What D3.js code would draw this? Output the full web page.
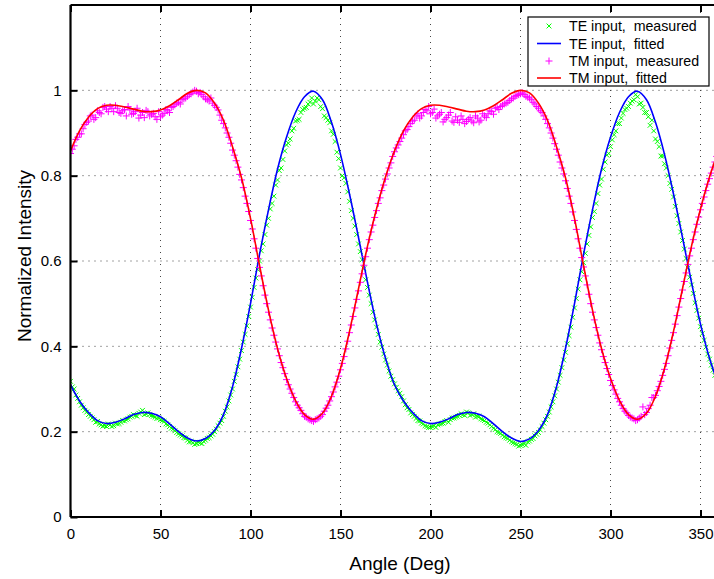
<!DOCTYPE html>
<html><head><meta charset="utf-8">
<script src="https://cdn.jsdelivr.net/npm/d3@7"></script>
<style>
html,body{margin:0;padding:0;background:#fff;}
svg{display:block;font-family:"Liberation Sans",Arial,Helvetica,sans-serif;}
</style></head>
<body>
<svg id="chart" width="714" height="579"></svg>
<script>
// ---------- data ----------
const xTicks = [0, 50, 100, 150, 200, 250, 300, 350];
const yTicks = [0, 0.2, 0.4, 0.6, 0.8, 1];
const yTickLabels = ["0", "0.2", "0.4", "0.6", "0.8", "1"];
const legendLabels = ["TE input,  measured", "TE input,  fitted", "TM input,  measured", "TM input,  fitted"];

// fitted curves, every 5 degrees from 0 to 360
const fitAngles = d3.range(0, 361, 5);
const teFitted = [0.310,0.272,0.245,0.226,0.219,0.222,0.230,0.240,0.245,0.243,0.235,0.218,0.200,0.185,0.178,0.184,0.203,0.240,0.305,0.395,0.500,0.615,0.720,0.815,0.890,0.948,0.985,0.998,0.978,0.925,0.850,0.757,0.655,0.550,0.452,0.372,
                  0.310,0.272,0.245,0.226,0.219,0.222,0.230,0.240,0.245,0.243,0.235,0.218,0.200,0.185,0.177,0.183,0.203,0.240,0.305,0.395,0.500,0.615,0.720,0.815,0.890,0.948,0.985,0.998,0.978,0.925,0.850,0.757,0.655,0.550,0.452,0.372,0.310];
const tmFitted = [0.858,0.905,0.937,0.957,0.965,0.965,0.961,0.956,0.951,0.950,0.954,0.964,0.978,0.993,1.000,0.994,0.970,0.930,0.868,0.795,0.700,0.590,0.485,0.395,0.325,0.273,0.240,0.229,0.243,0.283,0.348,0.435,0.535,0.635,0.722,0.797,
                  0.858,0.905,0.937,0.957,0.965,0.965,0.961,0.956,0.951,0.950,0.954,0.964,0.978,0.993,1.000,0.994,0.970,0.930,0.868,0.795,0.700,0.590,0.485,0.395,0.325,0.273,0.240,0.229,0.243,0.283,0.348,0.435,0.535,0.635,0.722,0.797,0.858];

// measured points at even degrees 0..358
const measAnglesEven = d3.range(0, 360, 2);
const teMeasuredEven = [
0.318,0.300,0.278,0.262,0.250,0.240,0.232,0.222,0.218,0.213,0.212,0.216,0.214,0.218,0.222,0.225,0.230,0.236,0.238,0.243,
0.250,0.242,0.240,0.236,0.231,0.228,0.224,0.216,0.208,0.202,0.195,0.190,0.185,0.176,0.174,0.172,0.174,0.177,0.184,0.190,
0.200,0.214,0.226,0.248,0.272,0.300,0.334,0.370,0.410,0.448,0.492,0.538,0.580,0.624,0.662,0.700,0.735,0.778,0.812,0.838,
0.872,0.886,0.911,0.930,0.948,0.958,0.968,0.982,0.975,0.978,0.957,0.936,0.924,0.897,0.855,0.818,0.795,0.762,0.718,0.682,
0.640,0.603,0.556,0.520,0.480,0.445,0.410,0.382,0.356,0.330,
0.312,0.296,0.282,0.263,0.252,0.240,0.231,0.225,0.218,0.212,0.210,0.214,0.216,0.219,0.224,0.222,0.232,0.234,0.238,0.240,
0.246,0.238,0.242,0.236,0.230,0.226,0.220,0.212,0.205,0.198,0.192,0.186,0.180,0.174,0.170,0.168,0.172,0.176,0.182,0.190,
0.198,0.212,0.228,0.246,0.270,0.300,0.332,0.368,0.406,0.445,0.490,0.534,0.575,0.618,0.660,0.702,0.735,0.778,0.815,0.848,
0.868,0.896,0.922,0.935,0.955,0.962,0.975,0.990,0.968,0.960,0.948,0.918,0.905,0.880,0.846,0.828,0.800,0.768,0.728,0.688,
0.648,0.606,0.562,0.524,0.484,0.446,0.414,0.382,0.356,0.332];
const tmMeasuredEven = [
0.852,0.870,0.890,0.898,0.920,0.928,0.942,0.936,0.948,0.960,0.956,0.962,0.950,0.958,0.946,0.955,0.962,0.944,0.950,0.935,
0.948,0.953,0.940,0.946,0.932,0.938,0.946,0.952,0.960,0.966,0.972,0.978,0.982,0.990,0.996,0.998,0.995,0.985,0.978,0.982,
0.965,0.954,0.930,0.912,0.890,0.860,0.835,0.803,0.772,0.735,0.695,0.652,0.606,0.565,0.520,0.480,0.443,0.410,0.378,0.350,
0.322,0.300,0.280,0.262,0.250,0.236,0.230,0.226,0.228,0.232,0.240,0.255,0.272,0.293,0.316,0.345,0.376,0.412,0.450,0.490,
0.530,0.570,0.610,0.650,0.684,0.718,0.748,0.778,0.804,0.830,
0.856,0.872,0.888,0.905,0.915,0.928,0.940,0.935,0.948,0.952,0.945,0.956,0.940,0.948,0.932,0.942,0.928,0.938,0.925,0.932,
0.927,0.936,0.924,0.935,0.930,0.940,0.945,0.950,0.958,0.955,0.965,0.970,0.976,0.982,0.988,0.992,0.990,0.984,0.978,0.968,
0.958,0.948,0.932,0.912,0.888,0.862,0.832,0.804,0.770,0.735,0.695,0.652,0.608,0.565,0.522,0.480,0.444,0.408,0.376,0.348,
0.320,0.298,0.278,0.262,0.248,0.238,0.232,0.226,0.232,0.258,0.245,0.262,0.280,0.296,0.318,0.346,0.378,0.414,0.452,0.492,
0.532,0.572,0.612,0.650,0.686,0.720,0.750,0.780,0.806,0.832];

// measured points at odd degrees 1..359
const measAnglesOdd = d3.range(1, 360, 2);
const teMeasuredOdd = [
0.305,0.286,0.270,0.256,0.246,0.236,0.228,0.224,0.216,0.214,0.218,0.212,0.220,0.219,0.226,0.228,0.234,0.240,0.236,0.246,
0.240,0.244,0.238,0.234,0.232,0.226,0.218,0.212,0.206,0.198,0.192,0.186,0.180,0.177,0.170,0.175,0.172,0.180,0.186,0.194,
0.206,0.220,0.236,0.258,0.286,0.318,0.352,0.390,0.428,0.470,0.515,0.560,0.600,0.640,0.684,0.722,0.752,0.790,0.818,0.858,
0.876,0.905,0.928,0.932,0.955,0.960,0.972,0.968,0.982,0.962,0.940,0.930,0.905,0.880,0.840,0.800,0.782,0.740,0.700,0.662,
0.622,0.582,0.538,0.500,0.462,0.428,0.398,0.368,0.342,0.322,
0.304,0.290,0.272,0.256,0.244,0.236,0.226,0.220,0.214,0.210,0.212,0.210,0.218,0.220,0.226,0.228,0.232,0.236,0.242,0.238,
0.244,0.240,0.234,0.236,0.228,0.222,0.216,0.208,0.200,0.196,0.188,0.184,0.176,0.172,0.166,0.170,0.168,0.178,0.184,0.194,
0.204,0.220,0.236,0.258,0.284,0.316,0.350,0.386,0.425,0.468,0.512,0.556,0.596,0.640,0.680,0.716,0.758,0.792,0.832,0.852,
0.884,0.905,0.922,0.946,0.958,0.970,0.978,0.985,0.970,0.948,0.938,0.930,0.886,0.868,0.846,0.818,0.782,0.750,0.706,0.668,
0.628,0.584,0.544,0.502,0.466,0.430,0.398,0.370,0.344,0.320];
const tmMeasuredOdd = [
0.862,0.885,0.898,0.910,0.925,0.940,0.932,0.952,0.945,0.962,0.950,0.958,0.964,0.948,0.952,0.940,0.954,0.946,0.958,0.942,
0.936,0.950,0.944,0.938,0.950,0.942,0.955,0.948,0.962,0.970,0.968,0.980,0.986,0.992,1.000,0.992,0.990,0.980,0.975,0.970,
0.960,0.942,0.922,0.900,0.876,0.848,0.820,0.790,0.752,0.716,0.675,0.630,0.585,0.542,0.500,0.462,0.426,0.394,0.362,0.336,
0.310,0.290,0.270,0.256,0.242,0.234,0.228,0.224,0.230,0.236,0.248,0.262,0.282,0.305,0.330,0.360,0.394,0.432,0.470,0.510,
0.550,0.590,0.630,0.668,0.702,0.735,0.765,0.792,0.818,0.845,
0.865,0.880,0.896,0.908,0.922,0.930,0.945,0.940,0.955,0.962,0.948,0.935,0.944,0.926,0.936,0.948,0.925,0.930,0.940,0.922,
0.932,0.928,0.940,0.926,0.945,0.936,0.952,0.944,0.960,0.962,0.968,0.972,0.980,0.986,0.990,0.994,0.986,0.982,0.972,0.962,
0.952,0.940,0.922,0.900,0.875,0.848,0.818,0.788,0.752,0.715,0.674,0.630,0.586,0.544,0.500,0.462,0.426,0.392,0.362,0.334,
0.308,0.288,0.270,0.254,0.244,0.234,0.230,0.228,0.236,0.240,0.254,0.280,0.285,0.306,0.332,0.360,0.396,0.432,0.472,0.512,
0.552,0.592,0.630,0.668,0.703,0.735,0.765,0.793,0.820,0.845];

// ---------- layout ----------
const svg = d3.select("#chart");
const m = {left: 70.5, top: 5, right: 718.5, bottom: 517};
const x = d3.scaleLinear().domain([0, 360]).range([m.left, m.right]);
const y = d3.scaleLinear().domain([0, 1.2]).range([m.bottom, m.top]);

const colTEm = "#00ff00", colTEf = "#0000ff", colTMm = "#ff00ff", colTMf = "#ff0000";

svg.append("defs").append("clipPath").attr("id", "clip")
  .append("rect").attr("x", m.left).attr("y", m.top).attr("width", m.right - m.left).attr("height", m.bottom - m.top);

// grid
const grid = svg.append("g");
grid.selectAll("line.vg").data(xTicks.filter(d => d > 0)).join("line")
  .attr("x1", d => x(d)).attr("x2", d => x(d)).attr("y1", m.bottom).attr("y2", m.top)
  .attr("stroke", "#444").attr("stroke-width", 1).attr("stroke-dasharray", "1,5");
grid.selectAll("line.hg").data(yTicks.filter(d => d > 0)).join("line")
  .attr("x1", m.left).attr("x2", m.right).attr("y1", d => y(d)).attr("y2", d => y(d))
  .attr("stroke", "#444").attr("stroke-width", 1).attr("stroke-dasharray", "1,5");

// data
const plot = svg.append("g").attr("clip-path", "url(#clip)");
const line = d3.line().x((d, i) => x(fitAngles[i])).y(d => y(d)).curve(d3.curveCatmullRom.alpha(0.5));

const xPath = (cx, cy, s) => `M${cx - s},${cy - s}L${cx + s},${cy + s}M${cx - s},${cy + s}L${cx + s},${cy - s}`;
const pPath = (cx, cy, s) => `M${cx - s},${cy}L${cx + s},${cy}M${cx},${cy - s}L${cx},${cy + s}`;

function markers(g, angles, vals, color, shape, s) {
  g.selectAll(null).data(vals).join("path")
    .attr("d", (d, i) => shape(x(angles[i]), y(d), s))
    .attr("stroke", color).attr("stroke-width", 1).attr("fill", "none");
}
const gTE = plot.append("g");
markers(gTE, measAnglesEven, teMeasuredEven, colTEm, xPath, 2.4);
markers(gTE, measAnglesOdd, teMeasuredOdd, colTEm, xPath, 2.4);
plot.append("path").attr("d", line(teFitted)).attr("fill", "none").attr("stroke", colTEf).attr("stroke-width", 1.6);
const gTM = plot.append("g");
markers(gTM, measAnglesEven, tmMeasuredEven, colTMm, pPath, 3.5);
markers(gTM, measAnglesOdd, tmMeasuredOdd, colTMm, pPath, 3.5);
plot.append("path").attr("d", line(tmFitted)).attr("fill", "none").attr("stroke", colTMf).attr("stroke-width", 1.6);

// axes
const axB = svg.append("g").attr("transform", `translate(0,${m.bottom})`)
  .call(d3.axisBottom(x).tickValues(xTicks).tickSize(-7).tickPadding(14).tickFormat(d3.format("d")));
const axT = svg.append("g").attr("transform", `translate(0,${m.top})`)
  .call(d3.axisTop(x).tickValues(xTicks).tickSize(-7).tickFormat(""));
const axL = svg.append("g").attr("transform", `translate(${m.left},0)`)
  .call(d3.axisLeft(y).tickValues(yTicks).tickSize(-7).tickPadding(14).tickFormat((d, i) => yTickLabels[i]));
[axB, axT, axL].forEach(a => {
  a.select(".domain").attr("stroke", "#000").attr("stroke-width", 2.2);
  a.selectAll(".tick line").attr("stroke", "#000").attr("stroke-width", 2);
  a.selectAll(".tick text").attr("font-size", 15).attr("fill", "#000")
    .attr("font-family", "'Liberation Sans', Arial, sans-serif");
});
axB.select(".domain").attr("d", `M${m.left},0H${m.right}`);
axT.select(".domain").attr("d", `M${m.left},0H${m.right}`);
axL.select(".domain").attr("d", `M0,${m.bottom}V${m.top}`);
axB.selectAll(".tick text").attr("dy", "0.55em");
axL.selectAll(".tick text").attr("dx", "5");

// axis titles
svg.append("text").attr("x", x(183)).attr("y", 570).attr("text-anchor", "middle")
  .attr("font-size", 19).text("Angle (Deg)");
svg.append("text").attr("transform", `translate(31,${y(0.6) - 5}) rotate(-90)`).attr("text-anchor", "middle")
  .attr("font-size", 19).text("Normalized Intensity");

// legend
const lg = svg.append("g");
lg.append("rect").attr("x", 528).attr("y", 17).attr("width", 181).attr("height", 69)
  .attr("fill", "#fff").attr("stroke", "#000").attr("stroke-width", 1.2);
const rowY = [26, 43.5, 61, 78];
const lx1 = 537, lx2 = 561, lmx = 549;
lg.append("path").attr("d", xPath(lmx, rowY[0], 2.4)).attr("stroke", colTEm).attr("stroke-width", 1).attr("fill", "none");
lg.append("line").attr("x1", lx1).attr("x2", lx2).attr("y1", rowY[1]).attr("y2", rowY[1]).attr("stroke", colTEf).attr("stroke-width", 1.6);
lg.append("path").attr("d", pPath(lmx, rowY[2], 3.5)).attr("stroke", colTMm).attr("stroke-width", 1).attr("fill", "none");
lg.append("line").attr("x1", lx1).attr("x2", lx2).attr("y1", rowY[3]).attr("y2", rowY[3]).attr("stroke", colTMf).attr("stroke-width", 1.6);
lg.selectAll("text").data(legendLabels).join("text")
  .attr("x", 569).attr("y", (d, i) => rowY[i] + 5).attr("font-size", 14.2)
  .style("white-space", "pre").text(d => d);
</script>
</body></html>
